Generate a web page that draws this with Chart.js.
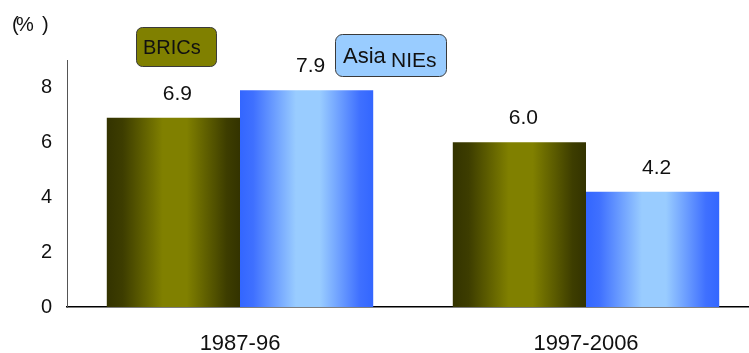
<!DOCTYPE html>
<html>
<head>
<meta charset="utf-8">
<script src="https://cdn.jsdelivr.net/npm/chart.js@4/dist/chart.umd.min.js"></script>
<style>
  html, body { margin: 0; padding: 0; background: #fff; overflow: hidden; }
  #wrap { position: relative; width: 760px; height: 353px; }
</style>
</head>
<body>
<div id="wrap"><canvas id="growth-chart"></canvas></div>
<script>
"use strict";
const categories = ['1987-96', '1997-2006'];
const bricsValues = [6.9, 6.0];
const asiaNiesValues = [7.9, 4.2];
const yTicks = [0, 2, 4, 6, 8];
const yMax = 9;

const FONT = '"Liberation Sans", Arial, sans-serif';

// horizontal "cylinder" shading for each bar
const shading = {
    brics: [[0, '#333300'], [0.12, '#3d3d00'], [0.42, '#808000'], [0.6, '#808000'], [0.9, '#3d3d00'], [1, '#333300']],
    asia: [[0, '#3366ff'], [0.1, '#3f70ff'], [0.42, '#99ccff'], [0.6, '#99ccff'], [0.9, '#3f70ff'], [1, '#3366ff']]
};

const gradientBars = {
    id: 'gradientBars',
    beforeDatasetsDraw(chart) {
        const ctx = chart.ctx;
        chart.data.datasets.forEach((ds, i) => {
            chart.getDatasetMeta(i).data.forEach(bar => {
                const left = bar.x - bar.width / 2;
                const g = ctx.createLinearGradient(left, 0, left + bar.width, 0);
                shading[ds.shade].forEach(s => g.addColorStop(s[0], s[1]));
                bar.options = Object.assign({}, bar.options, { backgroundColor: g });
            });
        });
    }
};

const valueLabels = {
    id: 'valueLabels',
    afterDatasetsDraw(chart) {
        const ctx = chart.ctx;
        ctx.save();
        ctx.font = '21px ' + FONT;
        ctx.fillStyle = '#111';
        ctx.textAlign = 'center';
        ctx.textBaseline = 'alphabetic';
        chart.data.datasets.forEach((ds, i) => {
            chart.getDatasetMeta(i).data.forEach((bar, j) => {
                ctx.fillText(ds.data[j].toFixed(1), bar.x + 4, bar.y - 18);
            });
        });
        ctx.restore();
    }
};

function roundBox(ctx, x, y, w, h, r, fill) {
    ctx.beginPath();
    ctx.roundRect(x + 0.5, y + 0.5, w, h, r);
    ctx.fillStyle = fill;
    ctx.fill();
    ctx.lineWidth = 1;
    ctx.strokeStyle = '#3a3a3a';
    ctx.stroke();
}

const annotations = {
    id: 'annotations',
    afterDraw(chart) {
        const ctx = chart.ctx;
        ctx.save();
        ctx.fillStyle = '#111';
        ctx.textBaseline = 'alphabetic';
        ctx.textAlign = 'left';
        // unit marker
        ctx.font = '20px ' + FONT;
        ctx.fillText('(', 12, 31);
        ctx.fillText('%', 16, 31);
        ctx.fillText(')', 42, 31);
        // series tags
        roundBox(ctx, 136, 27, 80, 39, 6, '#808000');
        ctx.fillStyle = '#111';
        ctx.font = '20px ' + FONT;
        ctx.fillText('BRICs', 143, 54);
        roundBox(ctx, 335, 34, 111, 42, 7, '#99ccff');
        ctx.fillStyle = '#111';
        ctx.font = '22px ' + FONT;
        ctx.fillText('Asia', 343, 63);
        ctx.font = '21px ' + FONT;
        ctx.fillText('NIEs', 391, 67);
        ctx.restore();
    }
};

new Chart(document.getElementById('growth-chart'), {
    type: 'bar',
    data: {
        labels: categories,
        datasets: [{
                label: 'BRICs',
                shade: 'brics',
                data: bricsValues,
                backgroundColor: '#808000',
                borderWidth: 0
            }, {
                label: 'Asia NIEs',
                shade: 'asia',
                data: asiaNiesValues,
                backgroundColor: '#99ccff',
                borderWidth: 0
            }]
    },
    options: {
        responsive: true,
        maintainAspectRatio: false,
        animation: false,
        categoryPercentage: 0.77,
        barPercentage: 1,
        layout: {
            padding: {
                left: 0,
                right: 1,
                top: 60,
                bottom: 0
            }
        },
        scales: {
            x: {
                grid: { display: false, drawTicks: false },
                border: { display: true, color: '#000', width: 1.5 },
                ticks: {
                    color: '#111',
                    padding: 24,
                    font: { family: FONT, size: 22 }
                },
                afterFit(scale) { scale.height = 46; }
            },
            y: {
                min: 0,
                max: yMax,
                grid: { display: false, drawTicks: false },
                border: { display: true, color: '#555', width: 1 },
                ticks: {
                    stepSize: 2,
                    color: '#111',
                    padding: 15,
                    font: { family: FONT, size: 20 }
                },
                afterBuildTicks(scale) {
                    scale.ticks = yTicks.map(v => ({ value: v }));
                },
                afterFit(scale) { scale.width = 67; }
            }
        },
        plugins: {
            legend: { display: false },
            tooltip: { enabled: false },
            title: { display: false }
        }
    },
    plugins: [gradientBars, valueLabels, annotations]
});
</script>
</body>
</html>
